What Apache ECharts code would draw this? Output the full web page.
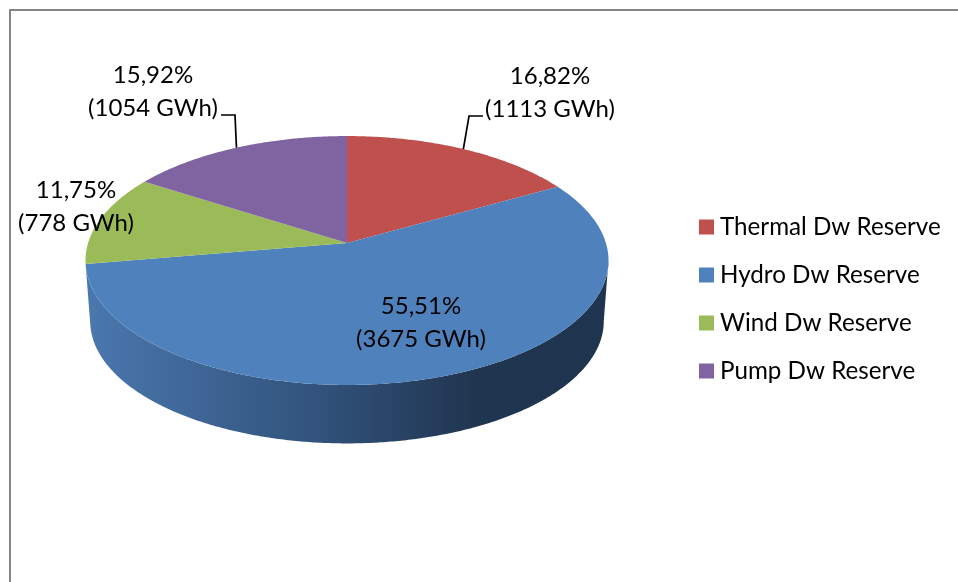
<!DOCTYPE html>
<html>
<head>
<meta charset="utf-8">
<style>
    html, body { margin: 0; padding: 0; background: #fff; overflow: hidden; }
    #chart { width: 958px; height: 582px; }
</style>
</head>
<body>
<div id="chart"></div>
<script src="https://cdn.jsdelivr.net/npm/echarts@6/dist/echarts.min.js"></script>
<script>
// values
const categories = ['Thermal Dw Reserve', 'Hydro Dw Reserve', 'Wind Dw Reserve', 'Pump Dw Reserve'];
const gwh = [1113, 3675, 778, 1054];
const percentLabels = ['16,82%', '55,51%', '11,75%', '15,92%'];
const gwhLabels = ['(1113 GWh)', '(3675 GWh)', '(778 GWh)', '(1054 GWh)'];
const colors = ['#c0504d', '#4f81bd', '#9bbb59', '#8064a2'];

// layout of the tilted pie: perspective projection of a circle
const pie = { cx: 347, cy: 243, a: 258.9, b: 122, k: 0.1406, depth: 61, shrink: 0.982 };
const labelPos = [[550, 93], [421, 323], [76, 207], [153, 92]];
const leaderKnee = [[[469, 116], [483, 116]], null, null, [[235, 115], [221, 115]]];
const fontFamily = 'Lato, "Noto Sans", sans-serif';

const total = gwh.reduce((a, b) => a + b, 0);

const rimPoint = (deg, scale, dy) => {
    const t = deg * Math.PI / 180;
    const d = 1 + pie.k * Math.cos(t);
    return [
        pie.cx + scale * pie.a * Math.sin(t) / d,
        pie.cy + dy - scale * pie.b * Math.cos(t) / d
    ];
};

const arc = (from, to, scale, dy) => {
    const pts = [];
    const n = Math.max(2, Math.ceil(Math.abs(to - from) * 2));
    for (let i = 0; i <= n; i++) {
        pts.push(rimPoint(from + (to - from) * i / n, scale, dy));
    }
    return pts;
};

// start and end angle of each slice, clockwise from the top
const angles = [];
let acc = 0;
gwh.forEach((v) => {
    angles.push([acc / total * 360, (acc + v) / total * 360]);
    acc += v;
});

const renderSlice = (idx) => () => {
    const [start, end] = angles[idx];
    const children = [];

    // side wall, only the slice at the front shows one
    const visStart = Math.max(start, 98);
    const visEnd = Math.min(end, 262);
    if (visEnd - visStart > 90) {
        const wall = arc(visStart, visEnd, 1, 0).concat(arc(visEnd, visStart, pie.shrink, pie.depth));
        children.push({
            type: 'polygon',
            shape: { points: wall },
            style: {
                fill: new echarts.graphic.LinearGradient(1, 0, 0, 0, [
                    { offset: 0, color: '#1f344f' },
                    { offset: 0.25, color: '#20354f' },
                    { offset: 0.55, color: '#31527b' },
                    { offset: 0.85, color: '#426b9d' },
                    { offset: 1, color: '#4a78b0' }
                ])
            }
        });
    }

    // top face
    children.push({
        type: 'polygon',
        shape: { points: [[pie.cx, pie.cy]].concat(arc(start, end, 1, 0)) },
        style: { fill: colors[idx] }
    });

    // leader line
    if (leaderKnee[idx]) {
        const from = rimPoint((start + end) / 2, 1, 0);
        children.push({
            type: 'polyline',
            shape: { points: [from].concat(leaderKnee[idx]) },
            style: { stroke: '#000', lineWidth: 1.7, fill: null }
        });
    }

    children.push({
        type: 'text',
        z2: 10,
        style: {
            text: percentLabels[idx] + '\n' + gwhLabels[idx],
            x: labelPos[idx][0],
            y: labelPos[idx][1],
            align: 'center',
            verticalAlign: 'middle',
            fontFamily: fontFamily,
            fontSize: 24,
            lineHeight: 33,
            fill: '#000'
        }
    });

    return { type: 'group', children: children };
};

const chart = echarts.init(document.getElementById('chart'), null, { renderer: 'canvas' });
chart.setOption({
    animation: false,
    backgroundColor: '#fff',
    legend: {
        orient: 'vertical',
        left: 694,
        top: 210,
        icon: 'rect',
        itemWidth: 15,
        itemHeight: 15,
        itemGap: 24,
        selectedMode: false,
        textStyle: { fontFamily: fontFamily, fontSize: 24.2, color: '#000', lineHeight: 24, padding: [0, 0, 0, 1] },
        data: categories
    },
    graphic: [{
        type: 'rect',
        silent: true,
        shape: { x: 10, y: 10, width: 1200, height: 800 },
        style: { fill: null, stroke: '#868686', lineWidth: 2 }
    }],
    series: categories.map((name, i) => ({
        type: 'custom',
        name: name,
        coordinateSystem: 'none',
        silent: true,
        itemStyle: { color: colors[i] },
        renderItem: renderSlice(i),
        data: [gwh[i]]
    }))
});
</script>
</body>
</html>
